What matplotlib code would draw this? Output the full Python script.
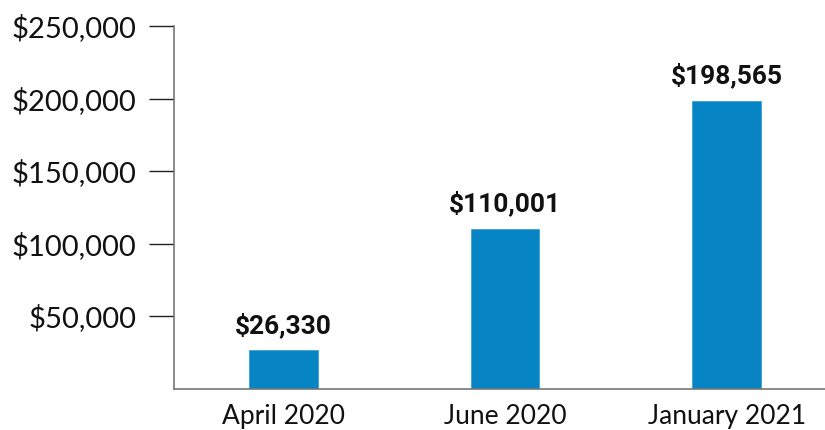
import matplotlib
matplotlib.use("Agg")
import matplotlib.pyplot as plt
from matplotlib.ticker import FuncFormatter

categories = ["April 2020", "June 2020", "January 2021"]
values = [26330, 110001, 198565]
yticks = [50000, 100000, 150000, 200000, 250000]

W, H = 825, 430
fig = plt.figure(figsize=(W / 100, H / 100), dpi=100)
ax = fig.add_axes([174 / W, (H - 388.5) / H, 1 - 174 / W, (388.5 - 26) / H])

x = list(range(len(categories)))
bars = ax.bar(x, values, width=0.31, color="#0784c3", edgecolor="#3aa0d8", linewidth=0.6)

for xi, v in zip(x, values):
    ax.text(xi, v + 8500, f"${v:,}", ha="center", va="bottom",
            fontsize=19, fontweight="bold", family="Roboto", color="#111111")

ax.set_xlim(-0.494, 2.444)
ax.set_ylim(0, 250000)
ax.set_yticks(yticks)
ax.yaxis.set_major_formatter(FuncFormatter(lambda v, p: f"${int(v):,}"))
ax.set_xticks(x)
ax.set_xticklabels(categories)

for lbl in ax.get_yticklabels():
    lbl.set_family("Lato")
    lbl.set_fontsize(21)
    lbl.set_color("#111111")
for lbl in ax.get_xticklabels():
    lbl.set_family("Lato")
    lbl.set_fontsize(19)
    lbl.set_color("#111111")

ax.tick_params(axis="y", length=18, width=1, color="#222222", pad=9)
ax.tick_params(axis="x", length=0, pad=11)

for s in ["top", "right"]:
    ax.spines[s].set_visible(False)
ax.spines["left"].set_color("#777777")
ax.spines["bottom"].set_color("#777777")
ax.spines["left"].set_linewidth(1.2)
ax.spines["bottom"].set_linewidth(1.2)

fig.savefig("out.png", dpi=100)
